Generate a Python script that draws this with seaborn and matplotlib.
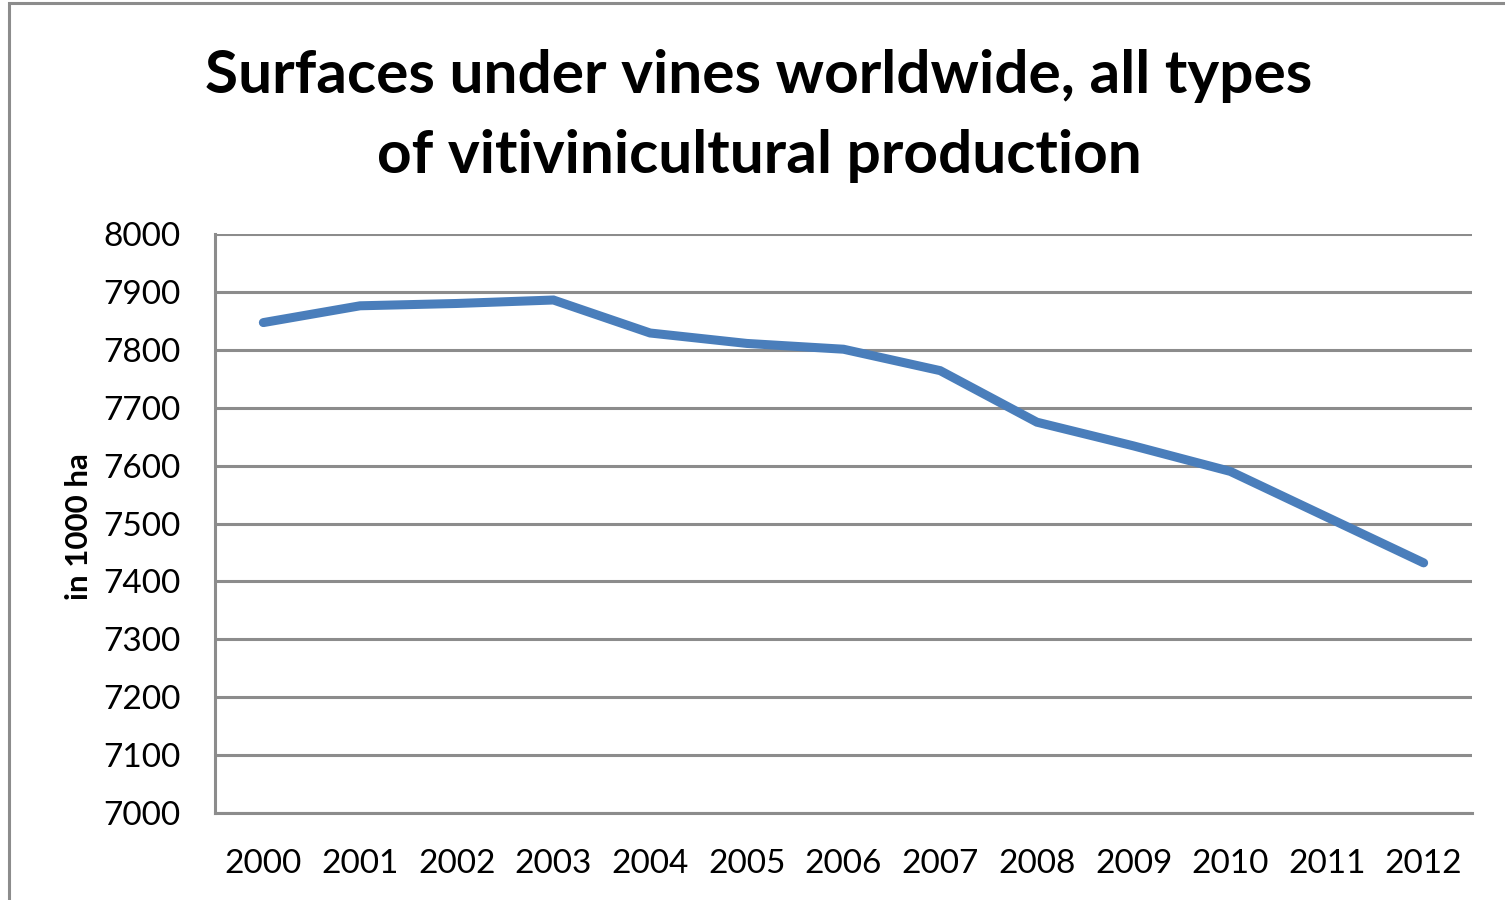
import matplotlib
matplotlib.use("Agg")
import matplotlib.pyplot as plt
import seaborn as sns
import pandas as pd
from matplotlib.patches import Rectangle

# Vineyard surface area worldwide, thousand hectares
years = ["2000", "2001", "2002", "2003", "2004", "2005", "2006",
         "2007", "2008", "2009", "2010", "2011", "2012"]
surface = [7847, 7876, 7880, 7886, 7829, 7811, 7801,
           7764, 7675, 7634, 7590, 7511, 7432]
y_ticks = [7000, 7100, 7200, 7300, 7400, 7500, 7600, 7700, 7800, 7900, 8000]

df = pd.DataFrame({"year": years, "surface": surface})

sns.set_theme(style="white")
plt.rcParams["font.family"] = ["Lato", "DejaVu Sans"]
plt.rcParams["text.color"] = "black"
plt.rcParams["axes.labelcolor"] = "black"

W, H = 1505, 900
fig = plt.figure(figsize=(W / 100, H / 100), dpi=100)
ax = fig.add_axes([215 / W, 1 - 813 / H, (1472 - 215) / W, (813 - 234) / H])

sns.lineplot(data=df, x="year", y="surface", ax=ax, color="#4a7ebb",
             linewidth=6.5, solid_capstyle="round", solid_joinstyle="miter",
             sort=False, zorder=3)

ax.set_xlim(-0.5, len(years) - 0.5)
ax.set_ylim(7000, 8000)
ax.set_yticks(y_ticks)
ax.set_yticklabels([str(v) for v in y_ticks])
ax.tick_params(axis="both", length=0, labelsize=24, colors="black")
ax.tick_params(axis="y", pad=25)
ax.tick_params(axis="x", pad=26)

ax.yaxis.grid(True, color="#8c8c8c", linewidth=2.2)
ax.xaxis.grid(False)
for side in ("top", "right"):
    ax.spines[side].set_visible(False)
for side in ("left", "bottom"):
    ax.spines[side].set_color("#8c8c8c")
    ax.spines[side].set_linewidth(2.2)

ax.set_xlabel("")
ax.set_ylabel("in 1000 ha", fontsize=22.5, fontweight="bold", color="black")
ax.yaxis.set_label_coords((93 - 215) / (1472 - 215), (813 - 527) / (813 - 234))

fig.text(759 / W, 1 - 116 / H,
         "Surfaces under vines worldwide, all types\nof vitivinicultural production",
         ha="center", va="center", fontsize=43.5, fontweight="bold",
         linespacing=1.58, color="black")

# Chart area frame
fig.patches.append(Rectangle((9 / W, -0.05), 1.2, 1 - 3 / H + 0.05,
                             transform=fig.transFigure, fill=False,
                             edgecolor="#8c8c8c", linewidth=2.2))

fig.savefig("out.png", dpi=100, facecolor="white")
